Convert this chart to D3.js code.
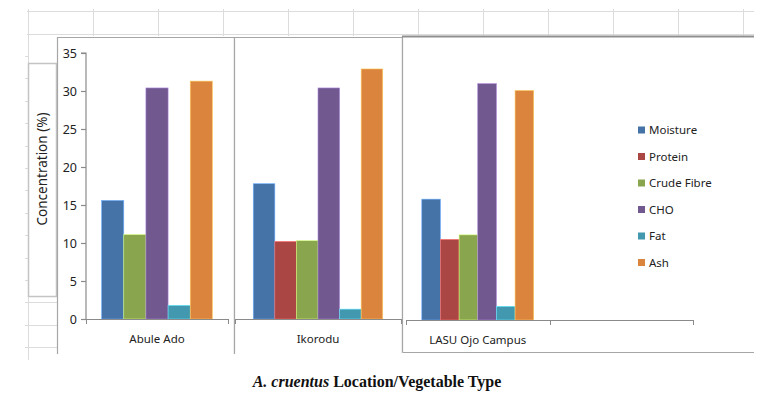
<!DOCTYPE html>
<html>
<head>
<meta charset="utf-8">
<script src="https://d3js.org/d3.v7.min.js"></script>
<style>
    body {
        margin: 0;
        background-color: white;
    }

    svg {
        display: block;
    }

    .tick text, .lbl {
        font-family: "Noto Sans", sans-serif;
        fill: #222;
    }
</style>
</head>
<body>
<svg></svg>
<script>
    // data
    const locations = ["Abule Ado", "Ikorodu", "LASU Ojo Campus"];
    const nutrients = ["Moisture", "Protein", "Crude Fibre", "CHO", "Fat", "Ash"];
    const moisture = [15.6, 17.8, 15.9];
    const protein = [null, 10.2, 10.6];
    const crudeFibre = [11.1, 10.3, 11.2];
    const cho = [30.4, 30.4, 31.1];
    const fat = [1.8, 1.3, 1.8];
    const ash = [31.3, 32.9, 30.2];
    const yTicks = [0, 5, 10, 15, 20, 25, 30, 35];
    const colors = ["#4572A7", "#AA4643", "#89A54E", "#71588F", "#4198AF", "#DB843D"];

    const series = [moisture, protein, crudeFibre, cho, fat, ash];

    function createVis() {
        let width = 775;
        let height = 398;
        let svg = d3.select("svg")
            .attr("width", width)
            .attr("height", height);

        // spreadsheet grid behind the charts
        let grid = svg.append("g").attr("stroke", "#dcdcdc").attr("stroke-width", 1);
        d3.range(28, 750, 65).forEach(x => {
            grid.append("line").attr("x1", x + 0.5).attr("x2", x + 0.5).attr("y1", 9).attr("y2", 36);
        });
        grid.append("line").attr("x1", 28.5).attr("x2", 28.5).attr("y1", 36).attr("y2", 360);
        [11, 34].forEach(y => {
            grid.append("line").attr("x1", 27).attr("x2", 754).attr("y1", y + 0.5).attr("y2", y + 0.5);
        });
        d3.range(56, 360, 22.4).forEach(y => {
            let yy = Math.round(y) + 0.5;
            grid.append("line").attr("x1", 25).attr("x2", yy > 300 ? 57 : 28).attr("y1", yy).attr("y2", yy);
        });

        // y-axis title box
        svg.append("rect")
            .attr("x", 28.5).attr("y", 63.5)
            .attr("width", 28).attr("height", 233)
            .attr("fill", "white")
            .attr("stroke", "#c4c4c4")
            .attr("stroke-width", 1.5);
        svg.append("text")
            .attr("class", "lbl")
            .attr("transform", "translate(47,169) rotate(-90)")
            .attr("text-anchor", "middle")
            .attr("font-size", 13.5)
            .text("Concentration (%)");

        // three pasted chart panels
        const panels = [
            {x0: 57, x1: 234, top: 37, axisX: [86, 228], zero: 319, cats: [0], yAxis: true},
            {x0: 234, x1: 402, top: 37, axisX: [235, 401], zero: 319, cats: [1], yAxis: false},
            {x0: 402, x1: 754, top: 36, axisX: [406, 693], zero: 320, cats: [2, -1], yAxis: false}
        ];

        panels.forEach((p, pi) => {
            let g = svg.append("g");
            g.append("rect")
                .attr("x", p.x0).attr("y", p.top)
                .attr("width", p.x1 - p.x0).attr("height", 360 - p.top)
                .attr("fill", "white");
            let border = g.append("path")
                .attr("fill", "none")
                .attr("stroke", "#a6a6a6")
                .attr("stroke-width", 1.2);
            if (pi < 2) {
                border.attr("d", `M${p.x0 + 0.5},354V${p.top + 0.5}H${p.x1 + 0.5}V354`);
            } else {
                border.attr("d", `M${p.x0 + 0.5},352.5V${p.top + 0.5}H${p.x1}M${p.x0 + 0.5},352.5H${p.x1}`);
                g.append("line")
                    .attr("x1", p.x0).attr("x2", p.x1)
                    .attr("y1", p.top + 0.5).attr("y2", p.top + 0.5)
                    .attr("stroke", "#8f8f8f").attr("stroke-width", 2);
            }

            let yScale = d3.scaleLinear()
                .domain([0, 35])
                .range([p.zero, p.zero - 266]);

            let xScale = d3.scaleBand()
                .domain(p.cats.map(String))
                .range(p.axisX)
                .paddingInner(0.22)
                .paddingOuter(0.11);

            p.cats.forEach(ci => {
                if (ci < 0) return;
                let present = nutrients.map((n, si) => si).filter(si => series[si][ci] !== null);
                let inner = d3.scaleBand()
                    .domain(present.map(String))
                    .range([xScale(String(ci)), xScale(String(ci)) + xScale.bandwidth()]);
                g.selectAll(".bar" + ci)
                    .data(present)
                    .join("rect")
                    .attr("x", si => inner(String(si)))
                    .attr("width", inner.bandwidth())
                    .attr("y", si => yScale(series[si][ci]))
                    .attr("height", si => yScale(0) - yScale(series[si][ci]))
                    .attr("fill", si => colors[si])
                    .attr("stroke", si => d3.color(colors[si]).brighter(1.2))
                    .attr("stroke-width", 0.6);
            });

            // category axis
            let catAxis = g.append("g")
                .attr("transform", `translate(0,${p.zero})`);
            let edges = [p.axisX[0]];
            p.cats.forEach((c, i) => edges.push(p.axisX[0] + (p.axisX[1] - p.axisX[0]) * (i + 1) / p.cats.length));
            catAxis.append("path")
                .attr("d", `M${p.axisX[0]},0.5H${p.axisX[1]}`)
                .attr("stroke", "#8a8a8a").attr("stroke-width", 1.2);
            catAxis.selectAll(".ctick")
                .data(edges)
                .join("line")
                .attr("x1", d => Math.round(d) + 0.5).attr("x2", d => Math.round(d) + 0.5)
                .attr("y1", 0).attr("y2", 5)
                .attr("stroke", "#8a8a8a");
            catAxis.selectAll(".clabel")
                .data(p.cats.filter(c => c >= 0))
                .join("text")
                .attr("class", "lbl")
                .attr("x", c => xScale(String(c)) + xScale.bandwidth() / 2)
                .attr("y", 24)
                .attr("text-anchor", "middle")
                .attr("font-size", 11.5)
                .text(c => locations[c]);

            if (p.yAxis) {
                let yAxis = g.append("g")
                    .attr("transform", `translate(${p.axisX[0]},0)`)
                    .call(d3.axisLeft(yScale).tickValues(yTicks).tickSize(5).tickPadding(4));
                yAxis.selectAll("path, line").attr("stroke", "#8a8a8a").attr("stroke-width", 1.2);
                yAxis.select(".domain").attr("d", `M-5,${yScale(35)}H0V${yScale(0)}`);
                yAxis.selectAll("text").attr("font-size", 12.5).attr("font-family", "Noto Sans, sans-serif").attr("fill", "#222");
            }
        });

        // legend
        let legend = svg.append("g");
        nutrients.forEach((n, i) => {
            let y = 130 + i * 26.5;
            legend.append("rect")
                .attr("x", 638).attr("y", y - 3.5)
                .attr("width", 7).attr("height", 7)
                .attr("fill", colors[i]);
            legend.append("text")
                .attr("class", "lbl")
                .attr("x", 649).attr("y", y + 4)
                .attr("font-size", 11.5)
                .text(n);
        });

        // caption
        let caption = svg.append("text")
            .attr("x", 377)
            .attr("y", 387)
            .attr("text-anchor", "middle")
            .attr("font-family", "Liberation Serif, Times New Roman, serif")
            .attr("font-weight", "bold")
            .attr("font-size", 16)
            .attr("fill", "#111");
        caption.append("tspan").attr("font-style", "italic").text("A. cruentus");
        caption.append("tspan").text(" Location/Vegetable Type");
    }
    createVis();
</script>
</body>
</html>
